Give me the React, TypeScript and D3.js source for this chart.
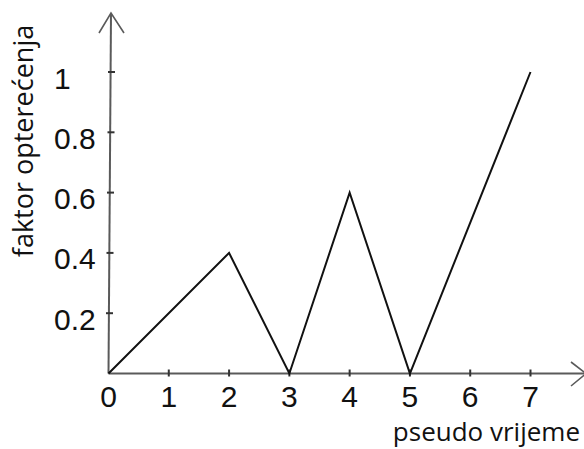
import * as d3 from 'd3';
import { useEffect, useRef } from 'react';

// pseudo time steps and load factor
const times = [0, 2, 3, 4, 5, 7];
const load = [0, 0.4, 0, 0.6, 0, 1];
const xTicks = [0, 1, 2, 3, 4, 5, 6, 7];
const yTicks = [0.2, 0.4, 0.6, 0.8, 1];
const xTitle = 'pseudo vrijeme';
const yTitle = 'faktor opterećenja';

const W = 584;
const H = 449;

export default function App() {
    const ref = useRef<SVGSVGElement>(null);

    useEffect(() => {
        const svg = d3.select(ref.current);
        svg.selectAll('*').remove();

        const x = d3.scaleLinear().domain([0, 7]).range([108.5, 530.5]);
        const y = d3.scaleLinear().domain([0, 1]).range([373.5, 72]);
        const axisColor = '#5a5a5a';

        // axes with arrow heads
        svg.append('line')
            .attr('x1', x(0)).attr('y1', y(0))
            .attr('x2', x(0) + 2.5).attr('y2', 13)
            .attr('stroke', axisColor).attr('stroke-width', 2);
        svg.append('path')
            .attr('d', `M${x(0) - 9.5},33 L${x(0) + 2.5},13 L${x(0) + 15.5},33`)
            .attr('fill', 'none').attr('stroke', axisColor).attr('stroke-width', 1.6);

        svg.append('line')
            .attr('x1', x(0)).attr('y1', y(0))
            .attr('x2', 586).attr('y2', y(0))
            .attr('stroke', axisColor).attr('stroke-width', 2);
        svg.append('path')
            .attr('d', `M571,${y(0) - 11.5} L586,${y(0)} L571,${y(0) + 12.5}`)
            .attr('fill', 'none').attr('stroke', axisColor).attr('stroke-width', 1.6);

        // x ticks
        svg.append('g').selectAll('line')
            .data(xTicks.slice(1))
            .enter().append('line')
            .attr('x1', d => x(d)).attr('x2', d => x(d))
            .attr('y1', y(0) - 4).attr('y2', y(0) + 3)
            .attr('stroke', '#333').attr('stroke-width', 2);
        svg.append('g').selectAll('text')
            .data(xTicks)
            .enter().append('text')
            .attr('x', d => x(d))
            .attr('y', 407)
            .attr('text-anchor', 'middle')
            .style('font-family', '"Liberation Sans", Arial, sans-serif')
            .style('font-size', '30px')
            .attr('fill', '#111')
            .text(d => d);

        // y ticks
        svg.append('g').selectAll('line')
            .data(yTicks)
            .enter().append('line')
            .attr('x1', d => x(0) + 2.5 * d - 3).attr('x2', d => x(0) + 2.5 * d + 4)
            .attr('y1', d => y(d)).attr('y2', d => y(d))
            .attr('stroke', '#333').attr('stroke-width', 2);
        svg.append('g').selectAll('text')
            .data(yTicks)
            .enter().append('text')
            .attr('x', 54)
            .attr('y', d => y(d) + 16.5)
            .attr('text-anchor', 'start')
            .style('font-family', '"Liberation Sans", Arial, sans-serif')
            .style('font-size', '30px')
            .attr('fill', '#111')
            .text(d => d);

        // data line
        const line = d3.line<number>()
            .x((d, i) => x(times[i]))
            .y(d => y(d));
        svg.append('path')
            .datum(load)
            .attr('d', line)
            .attr('fill', 'none')
            .attr('stroke', '#111')
            .attr('stroke-width', 2)
            .attr('stroke-linejoin', 'miter');

        // titles
        svg.append('text')
            .attr('x', 580).attr('y', 441)
            .attr('text-anchor', 'end')
            .style('font-family', '"Open Sans", sans-serif')
            .style('font-size', '26px')
            .attr('fill', '#111')
            .text(xTitle);
        svg.append('text')
            .attr('transform', 'translate(33,141) rotate(-90)')
            .attr('text-anchor', 'middle')
            .style('font-family', '"Open Sans", sans-serif')
            .style('font-size', '27px')
            .attr('fill', '#111')
            .text(yTitle);
    }, []);

    return (
        <svg ref={ref} width={W} height={H}
            style={{ position: 'absolute', left: 0, top: 0, background: '#fff' }} />
    );
}
